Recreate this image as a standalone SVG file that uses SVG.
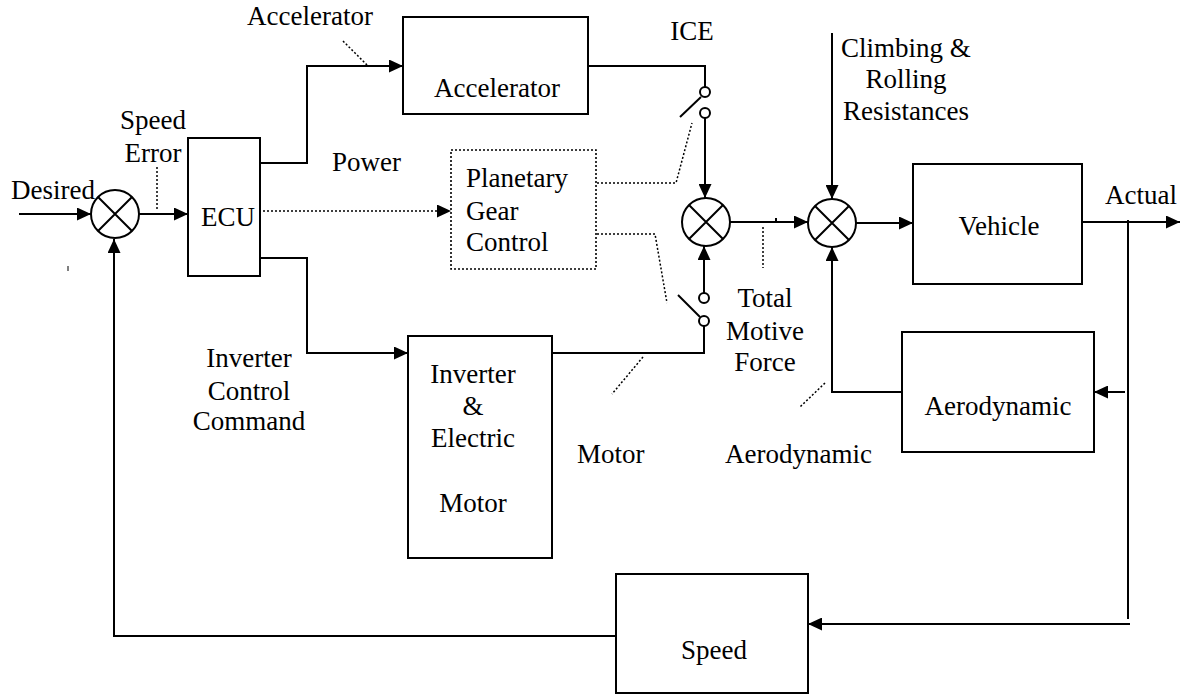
<svg xmlns="http://www.w3.org/2000/svg" width="1186" height="694" viewBox="0 0 1186 694">
<style>
text{font-family:"Liberation Serif","Times New Roman","DejaVu Serif",serif;font-size:27px;fill:#000}
.m{text-anchor:middle}
.box{fill:#fff;stroke:#000;stroke-width:2}
.dbox{fill:#fff;stroke:#000;stroke-width:1.6;stroke-dasharray:2 2}
.ln{fill:none;stroke:#000;stroke-width:2}
.dl{fill:none;stroke:#000;stroke-width:1.5;stroke-dasharray:2 2}
.sum{fill:#fff;stroke:#000;stroke-width:2}
.sw{fill:#fff;stroke:#000;stroke-width:2}
</style>
<defs>
<marker id="ah" viewBox="0 0 14 13" refX="14" refY="6.5" markerWidth="14" markerHeight="13" markerUnits="userSpaceOnUse" orient="auto">
<path d="M0,0 L14,6.5 L0,13 Z" fill="#000"/>
</marker>
</defs>
<rect width="1186" height="694" fill="#fff"/>

<g id="connectors">
<line class="ln" x1="19" y1="214" x2="91" y2="214" marker-end="url(#ah)"/>
<line class="ln" x1="139" y1="214" x2="188" y2="214" marker-end="url(#ah)"/>
<line class="dl" x1="157" y1="167" x2="157" y2="209"/>
<polyline class="ln" points="260,163 307,163 307,66 403,66" marker-end="url(#ah)"/>
<line class="dl" x1="343" y1="41" x2="367" y2="65"/>
<line class="dl" x1="263" y1="211" x2="451" y2="211" marker-end="url(#ah)"/>
<polyline class="ln" points="260,258 307,258 307,353 408,353" marker-end="url(#ah)"/>
<polyline class="ln" points="588,66 705,66 705,87"/>
<line class="ln" x1="680" y1="117" x2="701" y2="97"/>
<line class="ln" x1="705" y1="118" x2="705" y2="198" marker-end="url(#ah)"/>
<polyline class="dl" points="597,183 676,183 692,123"/>
<polyline class="dl" points="597,234 655,234 667,303"/>
<polyline class="ln" points="552,353 704,353 704,326"/>
<line class="ln" x1="678" y1="295" x2="700" y2="317"/>
<line class="ln" x1="704" y1="293" x2="704" y2="246" marker-end="url(#ah)"/>
<line class="ln" x1="730" y1="222" x2="808" y2="222" marker-end="url(#ah)"/>
<line class="ln" x1="776" y1="218" x2="776" y2="222" stroke-width="1"/>
<line class="dl" x1="763" y1="227" x2="763" y2="268"/>
<line class="ln" x1="832" y1="33" x2="832" y2="199" marker-end="url(#ah)"/>
<line class="ln" x1="856" y1="223" x2="913" y2="223" marker-end="url(#ah)"/>
<line class="ln" x1="1082" y1="222" x2="1180" y2="222" marker-end="url(#ah)"/>
<line class="ln" x1="1128" y1="220" x2="1128" y2="619"/>
<line class="ln" x1="1130" y1="624" x2="808" y2="624" marker-end="url(#ah)"/>
<line class="ln" x1="1125" y1="392" x2="1094" y2="392" marker-end="url(#ah)"/>
<polyline class="ln" points="902,392 832,392 832,247" marker-end="url(#ah)"/>
<line class="dl" x1="825" y1="383" x2="800" y2="407"/>
<line class="dl" x1="643" y1="357" x2="612" y2="394"/>
<polyline class="ln" points="616,636 114,636 114,239" marker-end="url(#ah)"/>
<line x1="68" y1="266" x2="68" y2="271" stroke="#000" stroke-width="1"/>
</g>

<g id="sum1">
<circle class="sum" cx="115" cy="214" r="24"/>
<path class="ln" d="M98,197 L132,231 M132,197 L98,231"/>
</g>
<g id="sum2">
<circle class="sum" cx="706" cy="222" r="24"/>
<path class="ln" d="M689,205 L723,239 M723,205 L689,239"/>
</g>
<g id="sum3">
<circle class="sum" cx="832" cy="223" r="24"/>
<path class="ln" d="M815,206 L849,240 M849,206 L815,240"/>
</g>

<g id="switch-ice">
<circle class="sw" cx="705" cy="92" r="5"/>
<circle class="sw" cx="705" cy="113" r="5"/>
</g>
<g id="switch-motor">
<circle class="sw" cx="704" cy="298" r="5"/>
<circle class="sw" cx="704" cy="321" r="5"/>
</g>

<g id="ecu">
<rect class="box" x="188" y="138" width="72" height="138"/>
<text x="228" y="226" class="m">ECU</text>
</g>
<g id="accelerator">
<rect class="box" x="403" y="17" width="185" height="97"/>
<text x="497" y="97" class="m">Accelerator</text>
</g>
<g id="planetary">
<rect class="dbox" x="451" y="150" width="145" height="119"/>
<text x="466" y="187">Planetary</text>
<text x="466" y="220">Gear</text>
<text x="466" y="251">Control</text>
</g>
<g id="inverter">
<rect class="box" x="408" y="336" width="144" height="222"/>
<text x="473" y="383" class="m">Inverter</text>
<text x="473" y="415" class="m">&amp;</text>
<text x="473" y="447" class="m">Electric</text>
<text x="473" y="512" class="m">Motor</text>
</g>
<g id="vehicle">
<rect class="box" x="913" y="164" width="169" height="120"/>
<text x="999" y="235" class="m">Vehicle</text>
</g>
<g id="aerodynamic">
<rect class="box" x="902" y="332" width="192" height="120"/>
<text x="998" y="415" class="m">Aerodynamic</text>
</g>
<g id="speed">
<rect class="box" x="616" y="574" width="192" height="119"/>
<text x="714" y="659" class="m">Speed</text>
</g>

<g id="labels">
<text x="11" y="199">Desired</text>
<text x="153" y="129" class="m">Speed</text>
<text x="153" y="162" class="m">Error</text>
<text x="247" y="25">Accelerator</text>
<text x="332" y="171">Power</text>
<text x="692" y="40" class="m">ICE</text>
<text x="906" y="57" class="m">Climbing &amp;</text>
<text x="906" y="88" class="m">Rolling</text>
<text x="906" y="120" class="m">Resistances</text>
<text x="1105" y="204">Actual</text>
<text x="765" y="307" class="m">Total</text>
<text x="765" y="340" class="m">Motive</text>
<text x="765" y="371" class="m">Force</text>
<text x="249" y="367" class="m">Inverter</text>
<text x="249" y="400" class="m">Control</text>
<text x="249" y="430" class="m">Command</text>
<text x="577" y="463">Motor</text>
<text x="725" y="463">Aerodynamic</text>
</g>
</svg>
